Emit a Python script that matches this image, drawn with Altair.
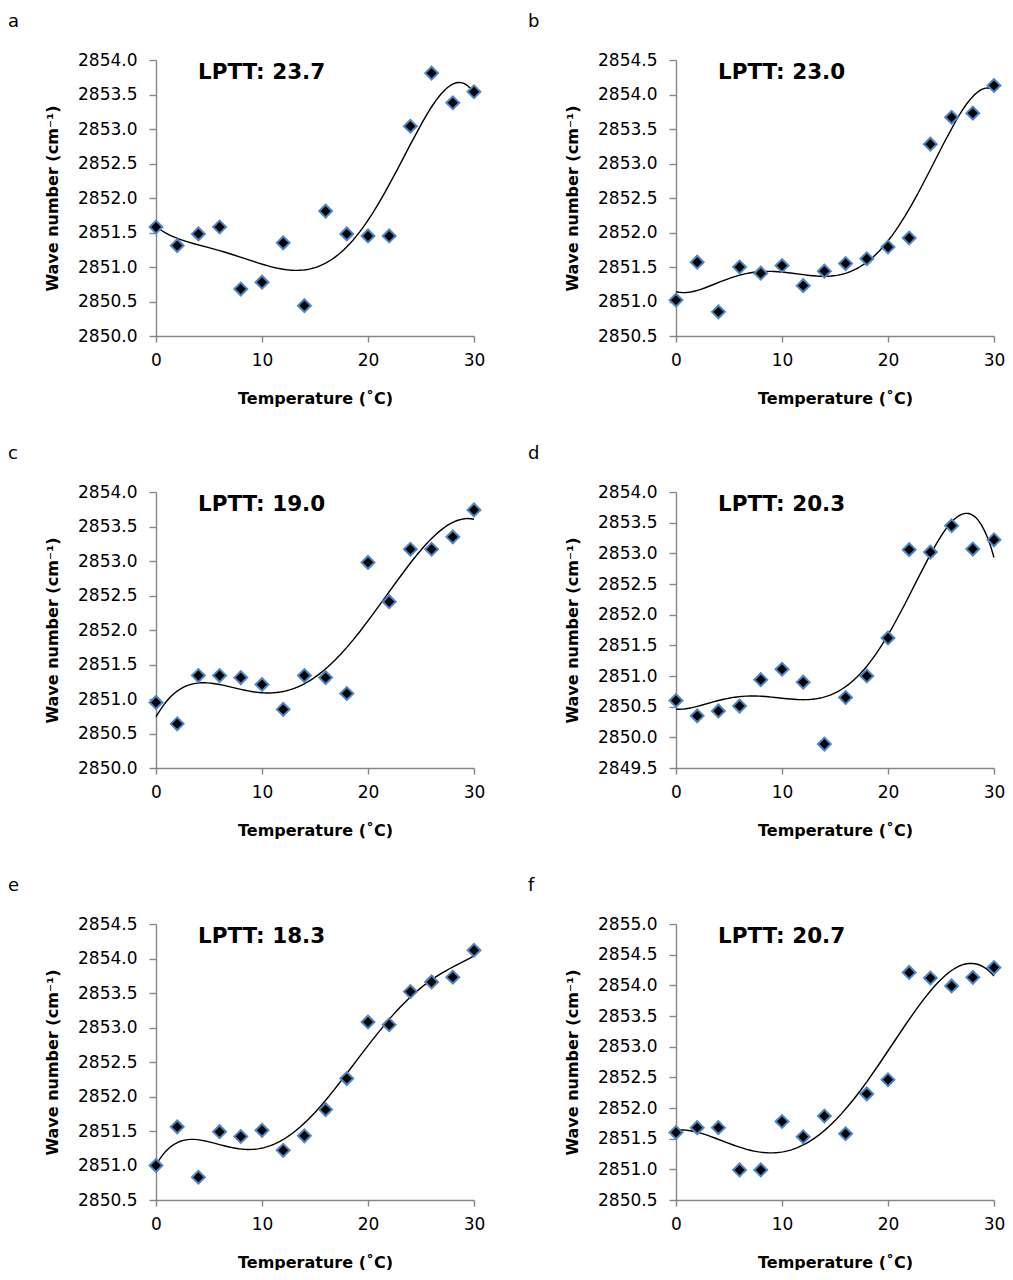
import altair as alt
import pandas as pd

temps = [0, 2, 4, 6, 8, 10, 12, 14, 16, 18, 20, 22, 24, 26, 28, 30]
x_ticks = [0, 10, 20, 30]

letters = ["a", "b", "c", "d", "e", "f"]
lptt = ["LPTT: 23.7", "LPTT: 23.0", "LPTT: 19.0", "LPTT: 20.3", "LPTT: 18.3", "LPTT: 20.7"]

wave_a = [2851.58, 2851.31, 2851.48, 2851.58, 2850.68, 2850.78, 2851.35, 2850.44,
          2851.81, 2851.48, 2851.45, 2851.45, 2853.04, 2853.81, 2853.38, 2853.54]
wave_b = [2851.02, 2851.57, 2850.85, 2851.50, 2851.41, 2851.52, 2851.23, 2851.44,
          2851.55, 2851.62, 2851.79, 2851.92, 2853.28, 2853.67, 2853.73, 2854.13]
wave_c = [2850.95, 2850.64, 2851.34, 2851.34, 2851.31, 2851.21, 2850.85, 2851.34,
          2851.31, 2851.08, 2852.98, 2852.41, 2853.17, 2853.17, 2853.35, 2853.74]
wave_d = [2850.60, 2850.35, 2850.43, 2850.51, 2850.94, 2851.11, 2850.90, 2849.89,
          2850.65, 2851.00, 2851.62, 2853.06, 2853.02, 2853.45, 2853.07, 2853.22]
wave_e = [2851.00, 2851.56, 2850.83, 2851.49, 2851.42, 2851.51, 2851.22, 2851.43,
          2851.81, 2852.26, 2853.08, 2853.04, 2853.52, 2853.66, 2853.73, 2854.12]
wave_f = [2851.60, 2851.68, 2851.68, 2850.99, 2850.99, 2851.78, 2851.53, 2851.87,
          2851.58, 2852.23, 2852.46, 2854.21, 2854.12, 2853.99, 2854.13, 2854.29]

ticks_a = [2850.0, 2850.5, 2851.0, 2851.5, 2852.0, 2852.5, 2853.0, 2853.5, 2854.0]
ticks_b = [2850.5, 2851.0, 2851.5, 2852.0, 2852.5, 2853.0, 2853.5, 2854.0, 2854.5]
ticks_c = [2850.0, 2850.5, 2851.0, 2851.5, 2852.0, 2852.5, 2853.0, 2853.5, 2854.0]
ticks_d = [2849.5, 2850.0, 2850.5, 2851.0, 2851.5, 2852.0, 2852.5, 2853.0, 2853.5, 2854.0]
ticks_e = [2850.5, 2851.0, 2851.5, 2852.0, 2852.5, 2853.0, 2853.5, 2854.0, 2854.5]
ticks_f = [2850.5, 2851.0, 2851.5, 2852.0, 2852.5, 2853.0, 2853.5, 2854.0, 2854.5, 2855.0]

FONT = "DejaVu Sans"
AXIS_GRAY = "#868686"


def panel(letter, label, values, ticks):
    df = pd.DataFrame({"T": temps, "W": values})
    x = alt.X("T:Q",
              scale=alt.Scale(domain=[0, 30], nice=False),
              axis=alt.Axis(values=x_ticks, tickCount=len(x_ticks), title="Temperature (˚C)",
                            format="d", labelFlush=False, labelOverlap=False))
    y = alt.Y("W:Q",
              scale=alt.Scale(domain=[ticks[0], ticks[-1]], nice=False, zero=False),
              axis=alt.Axis(values=ticks, tickCount=len(ticks), format=".1f",
                            title="Wave number (cm⁻¹)", labelOverlap=False, labelFlush=False))
    base = alt.Chart(df)
    fit = base.transform_regression("T", "W", method="poly", order=5, extent=[0, 30]).mark_line(
        color="black", strokeWidth=1.4).encode(x=x, y=y)
    pts = base.mark_point(shape="diamond", filled=True, fill="black", stroke="#4a86c8",
                          strokeWidth=2, size=165, opacity=1).encode(x="T:Q", y="W:Q")
    tag = alt.Chart(pd.DataFrame({"t": [letter]})).mark_text(
        align="left", baseline="top", fontSize=18, font=FONT, color="black").encode(
        x=alt.value(-148), y=alt.value(-47), text="t:N")
    head = alt.Chart(pd.DataFrame({"t": [label]})).mark_text(
        align="left", baseline="middle", fontSize=21.5, fontWeight="bold", font=FONT,
        color="black").encode(x=alt.value(42), y=alt.value(13), text="t:N")
    return alt.layer(fit, pts, tag, head).properties(width=318, height=276)


pa = panel(letters[0], lptt[0], wave_a, ticks_a)
pb = panel(letters[1], lptt[1], wave_b, ticks_b)
pc = panel(letters[2], lptt[2], wave_c, ticks_c)
pd_ = panel(letters[3], lptt[3], wave_d, ticks_d)
pe = panel(letters[4], lptt[4], wave_e, ticks_e)
pf = panel(letters[5], lptt[5], wave_f, ticks_f)

chart = alt.vconcat(
    alt.hconcat(pa, pb, spacing=43),
    alt.hconcat(pc, pd_, spacing=43),
    alt.hconcat(pe, pf, spacing=43),
    spacing=39,
).properties(padding={"left": 0, "top": 5, "right": 0, "bottom": 0}).configure_view(
    stroke=None
).configure_axis(
    grid=False,
    domainColor=AXIS_GRAY,
    tickColor=AXIS_GRAY,
    domainWidth=1.4,
    tickWidth=1.4,
    labelFont=FONT,
    labelFontSize=17,
    labelColor="black",
    titleFont=FONT,
    titleFontSize=16,
    titleFontWeight="bold",
    titleColor="black",
).configure_axisY(
    tickSize=7,
    labelPadding=12,
    titlePadding=17,
).configure_axisX(
    tickSize=6,
    labelPadding=10,
    titlePadding=22,
)

chart.save("out.html", embed_options={"renderer": "svg", "actions": False})
